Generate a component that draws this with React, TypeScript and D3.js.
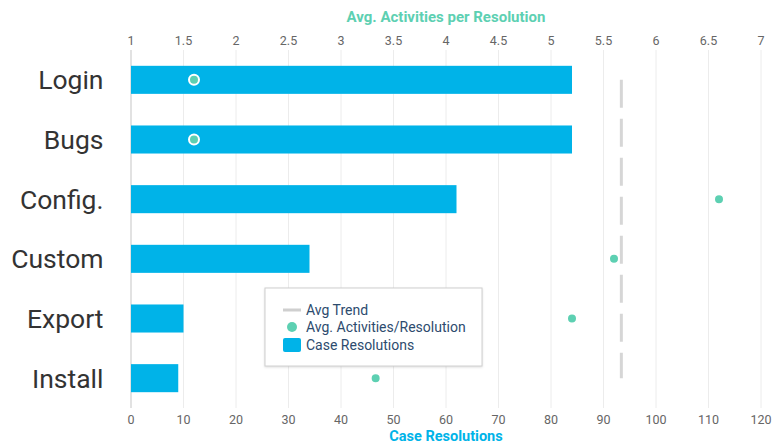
import React from "react";
import * as d3 from "d3";

const categories = ["Login", "Bugs", "Config.", "Custom", "Export", "Install"];
const caseResolutions = [84, 84, 62, 34, 10, 9];
const avgActivities = [1.6, 1.6, 6.6, 5.6, 5.2, 3.33];
const avgTrend = 5.67;
const bottomTicks = [0, 10, 20, 30, 40, 50, 60, 70, 80, 90, 100, 110, 120];
const topTicks = [1, 1.5, 2, 2.5, 3, 3.5, 4, 4.5, 5, 5.5, 6, 6.5, 7];

const W = 783;
const H = 445;
const left = 131;
const right = 761;
const top = 50;
const bottom = 408;

const BLUE = "#00b3e8";
const TEAL = "#5dd0b2";
const FONT = "Roboto, 'Noto Sans', sans-serif";

export default function App() {
  const x = d3.scaleLinear().domain([0, 120]).range([left, right]);
  const x2 = d3.scaleLinear().domain([1, 7]).range([left, right]);
  const y = d3.scaleBand().domain(categories).range([top, bottom]).paddingInner(0.53).paddingOuter(0.265);
  const bw = y.bandwidth();
  const yc = (c: string) => (y(c) as number) + bw / 2;

  return (
    <svg width={W} height={H} style={{ position: "absolute", left: 0, top: 0, fontFamily: FONT }}>
      <rect width={W} height={H} fill="#fff" />
      {bottomTicks.map((t) => (
        <line key={"g" + t} x1={x(t)} x2={x(t)} y1={top} y2={bottom} stroke="#ececec" strokeWidth={1} />
      ))}
      <line x1={left} x2={left} y1={top} y2={bottom} stroke="#cfcfcf" strokeWidth={1} />
      {topTicks.map((t) => (
        <text key={"t" + t} x={x2(t)} y={45} textAnchor="middle" fontSize={12.5} fill="#666">
          {t}
        </text>
      ))}
      <text x={(left + right) / 2} y={22} textAnchor="middle" fontSize={15} fontWeight="bold" fill={TEAL}>
        Avg. Activities per Resolution
      </text>
      {bottomTicks.map((t) => (
        <text key={"b" + t} x={x(t)} y={424} textAnchor="middle" fontSize={12.5} fill="#666">
          {t}
        </text>
      ))}
      <text x={(left + right) / 2} y={441} textAnchor="middle" fontSize={14.5} fontWeight="bold" fill={BLUE}>
        Case Resolutions
      </text>
      {categories.map((c) => (
        <text key={"c" + c} x={103.5} y={yc(c)} dy="0.36em" textAnchor="end" fontSize={26.5} fill="#333">
          {c}
        </text>
      ))}
      {categories.map((c, i) => (
        <rect key={"r" + c} x={x(0)} y={y(c)} width={x(caseResolutions[i]) - x(0)} height={bw} fill={BLUE} />
      ))}
      <line
        x1={x2(avgTrend)}
        x2={x2(avgTrend)}
        y1={yc(categories[0])}
        y2={yc(categories[categories.length - 1])}
        stroke="#d6d6d6"
        strokeWidth={3}
        strokeDasharray="28 11"
      />
      {categories.map((c, i) => (
        <circle key={"p" + c} cx={x2(avgActivities[i])} cy={yc(c)} r={5} fill={TEAL} stroke="#fff" strokeWidth={2} />
      ))}
      <g transform="translate(265,288)">
        <rect x={0} y={0} width={217} height={78} fill="#fff" stroke="#d0d0d0" strokeWidth={1} style={{ filter: "drop-shadow(0px 1px 1px rgba(0,0,0,0.12))" }} />
        <line x1={18} x2={36} y1={22} y2={22} stroke="#cfcfcf" strokeWidth={3} />
        <text x={41} y={22} dy="0.35em" fontSize={14} fill="#2d4b6e">Avg Trend</text>
        <circle cx={27} cy={39} r={5} fill={TEAL} />
        <text x={41} y={39} dy="0.35em" fontSize={14} fill="#2d4b6e">Avg. Activities/Resolution</text>
        <rect x={18} y={50} width={18} height={14} rx={2} fill={BLUE} />
        <text x={41} y={57} dy="0.35em" fontSize={14} fill="#2d4b6e">Case Resolutions</text>
      </g>
    </svg>
  );
}
